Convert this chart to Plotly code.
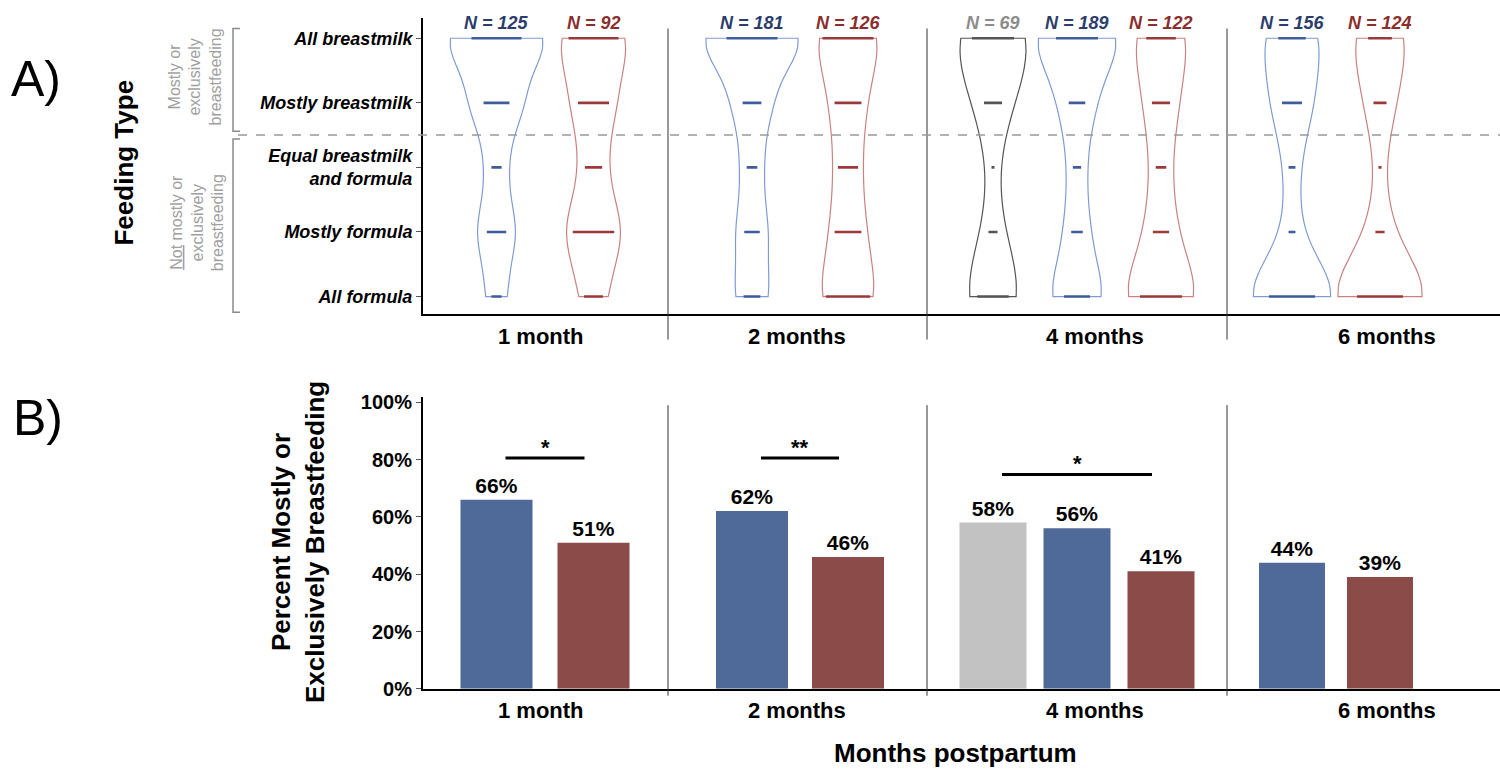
import numpy as np
import plotly.graph_objects as go

# ---------------- data ----------------
MONTHS = ["1 month", "2 months", "4 months", "6 months"]
LEVELS = [1, 2, 3, 4, 5]
LEVEL_LABELS = ["All formula", "Mostly formula", "Equal breastmilk<br>and formula",
                "Mostly breastmilk", "All breastmilk"]

# counts per feeding level (All formula, Mostly formula, Equal, Mostly BM, All BM)
COUNTS_BLUE = [[11, 21, 11, 28, 54],
               [27, 25, 17, 30, 82],
               [47, 21, 15, 30, 76],
               [67, 10, 10, 29, 40]]
COUNTS_RED = [[11, 24, 10, 18, 29],
              [33, 20, 15, 20, 38],
              [44, 17, 11, 19, 31],
              [60, 12, 4, 17, 31]]
COUNTS_GRAY = [None, None, [21, 6, 2, 12, 28], None]

PCT_BLUE = [66, 62, 56, 44]
PCT_RED = [51, 46, 41, 39]
PCT_GRAY = [None, None, 58, None]

Y_TICKS = [0, 20, 40, 60, 80, 100]
Y_TICK_TEXT = ["0%", "20%", "40%", "60%", "80%", "100%"]

SIG_MONTH = [0, 1, 2]
SIG_FROM = ["blue", "blue", "gray"]
SIG_TO = ["red", "red", "red"]
SIG_LABEL = ["*", "**", "*"]
SIG_LEVEL = [80.5, 80.5, 74.8]

# ---------------- styles / layout constants ----------------
W, H = 1500, 783
FONT = "Liberation Sans"
VIOLIN_LINE = {"blue": "#7f9bd2", "red": "#c98280", "gray": "#555555"}
DASH_COLOR = {"blue": "#3f5d9c", "red": "#9a3a3a", "gray": "#555555"}
N_COLOR = {"blue": "#2c3d6c", "red": "#8a2e2e", "gray": "#8c8c8c"}
BAR_COLOR = {"blue": "#4f6999", "red": "#8b4b48", "gray": "#c2c2c2"}

X_RANGE = [0, 1077]
GROUP_EDGES = [0, 245, 504, 804, 1077]
GROUP_CENTER = [122, 377, 654, 913]
GROUP_SPACING = [97, 96, 84, 88]
LABEL_X = [118, 374, 672, 964]
VIOLIN_W = [92, 92, 77, 84]
DASH_MAX = [50, 51, 42, 46]
BAR_W = [72, 72, 67, 66]


def px(x):
    return x / W


def py(y):
    return 1 - y / H


def series_in(g):
    s = []
    if COUNTS_GRAY[g] is not None:
        s.append("gray")
    s += ["blue", "red"]
    return s


def pos(g, name):
    s = series_in(g)
    i = s.index(name)
    return GROUP_CENTER[g] + (i - (len(s) - 1) / 2) * GROUP_SPACING[g]


def counts(g, name):
    return {"blue": COUNTS_BLUE, "red": COUNTS_RED, "gray": COUNTS_GRAY}[name][g]


def pct(g, name):
    return {"blue": PCT_BLUE, "red": PCT_RED, "gray": PCT_GRAY}[name][g]


def bw_nrd0(s):
    sd = np.std(s, ddof=1)
    q75, q25 = np.percentile(s, [75, 25])
    lo = min(sd, (q75 - q25) / 1.34) if q75 > q25 else sd
    return 0.9 * lo * len(s) ** -0.2


def kde_max(s, bw):
    grid = np.linspace(s.min(), s.max(), 401)
    d = np.exp(-0.5 * ((grid[:, None] - s[None, :]) / bw) ** 2).sum(1)
    return (d / (len(s) * bw * np.sqrt(2 * np.pi))).max()


fig = go.Figure()
annotations = []

# ---------------- panel A: violins (area-scaled within each month) ----------------
for g in range(len(MONTHS)):
    info = []
    for name in series_in(g):
        samples = np.repeat(LEVELS, counts(g, name)).astype(float)
        bw = bw_nrd0(samples)
        info.append((name, samples, bw, kde_max(samples, bw)))
    gmax = max(i[3] for i in info)
    for name, samples, bw, dmax in info:
        c = counts(g, name)
        x0 = pos(g, name)
        fig.add_trace(go.Violin(
            x=[x0] * len(samples), y=samples, xaxis="x", yaxis="y",
            width=VIOLIN_W[g] * dmax / gmax, scalemode="width",
            scalegroup=f"{name}{g}",
            spanmode="hard", bandwidth=bw, points=False,
            box_visible=False, meanline_visible=False,
            line=dict(color=VIOLIN_LINE[name], width=1.2),
            fillcolor="rgba(255,255,255,0)", hoverinfo="skip", showlegend=False))
        xs, ys = [], []
        mx = max(c)
        for lv, n in zip(LEVELS, c):
            hw = n / mx * DASH_MAX[g] / 2
            xs += [x0 - hw, x0 + hw, None]
            ys += [lv, lv, None]
        fig.add_trace(go.Scatter(x=xs, y=ys, xaxis="x", yaxis="y", mode="lines",
                                 line=dict(color=DASH_COLOR[name], width=2.6),
                                 hoverinfo="skip", showlegend=False))
        annotations.append(dict(x=x0, y=LEVELS[-1], xref="x", yref="y", yshift=15,
                                xanchor="center", yanchor="middle",
                                text=f"N = {sum(c)}", showarrow=False,
                                font=dict(family=FONT, size=18, color=N_COLOR[name],
                                          weight="bold", style="italic")))

# ---------------- panel B: bars ----------------
for name in ["gray", "blue", "red"]:
    xs, ys, ws = [], [], []
    for g in range(len(MONTHS)):
        if name in series_in(g):
            xs.append(pos(g, name))
            ys.append(pct(g, name))
            ws.append(BAR_W[g])
    fig.add_trace(go.Bar(x=xs, y=ys, width=ws, xaxis="x2", yaxis="y2",
                         marker=dict(color=BAR_COLOR[name], line=dict(width=0)),
                         text=[f"{v}%" for v in ys], textposition="outside",
                         constraintext="none", cliponaxis=False,
                         textfont=dict(family=FONT, size=21, color="black", weight="bold"),
                         hoverinfo="skip", showlegend=False))

shapes = []
for g, a, b, lab, lvl in zip(SIG_MONTH, SIG_FROM, SIG_TO, SIG_LABEL, SIG_LEVEL):
    xa, xb = pos(g, a) + 9, pos(g, b) - 9
    shapes.append(dict(type="line", xref="x2", yref="y2", x0=xa, x1=xb, y0=lvl, y1=lvl,
                       line=dict(color="black", width=3)))
    annotations.append(dict(x=(xa + xb) / 2, y=lvl, xref="x2", yref="y2",
                            xanchor="center", yanchor="bottom",
                            yshift=-4, text=lab, showarrow=False,
                            font=dict(family=FONT, size=22, color="black", weight="bold")))

for e in GROUP_EDGES[1:-1]:
    shapes.append(dict(type="line", xref="x", yref="paper", x0=e, x1=e,
                       y0=py(341), y1=py(23), line=dict(color="#333333", width=1)))
    shapes.append(dict(type="line", xref="x2", yref="paper", x0=e, x1=e,
                       y0=py(705), y1=py(408), line=dict(color="#333333", width=1)))

shapes.append(dict(type="line", xref="paper", yref="y", x0=px(238), x1=1, y0=3.5, y1=3.5,
                   line=dict(color="#999999", width=1.5, dash="dash")))
for ya, yb in [(23, 128), (136, 313)]:
    shapes.append(dict(type="path", xref="paper", yref="paper",
                       path=f"M {px(240)},{py(ya)} L {px(233)},{py(ya)} L {px(233)},{py(yb)} L {px(240)},{py(yb)}",
                       line=dict(color="#8a8a8a", width=1.5)))

for g, m in enumerate(MONTHS):
    for xr, yy in [("x", 338), ("x2", 720)]:
        annotations.append(dict(x=LABEL_X[g], y=py(yy), xref=xr, yref="paper", text=m,
                                showarrow=False, xanchor="center", yanchor="middle",
                                font=dict(family=FONT, size=22, color="black", weight="bold")))


def ptext(x, y, text, size, color="black", angle=0, **kw):
    return dict(x=px(x), y=py(y), xref="paper", yref="paper", text=text, textangle=angle,
                xanchor="center", yanchor="middle", showarrow=False,
                font=dict(family=FONT, size=size, color=color, **kw))


annotations += [
    ptext(36, 75, "A)", 50),
    ptext(38, 421, "B)", 50),
    ptext(124, 160, "Feeding Type", 26, angle=-90, weight="bold"),
    ptext(195, 73, "Mostly or<br>exclusively<br>breastfeeding", 16, "#a0a0a0", angle=-90),
    ptext(197, 222, "<u>Not</u> mostly or<br>exclusively<br>breastfeeding", 16, "#a0a0a0",
          angle=-90),
    ptext(298, 548, "Percent Mostly or<br>Exclusively Breastfeeding", 26, angle=-90,
          weight="bold"),
    ptext(955, 764, "Months postpartum", 26, weight="bold"),
]

fig.update_layout(
    width=W, height=H, margin=dict(l=0, r=0, t=0, b=0),
    paper_bgcolor="white", plot_bgcolor="white",
    violinmode="overlay", barmode="overlay",
    font=dict(family=FONT, color="black"),
    xaxis=dict(domain=[px(423), 1], range=X_RANGE, showgrid=False, zeroline=False,
               showticklabels=False, ticks="", showline=True, linecolor="black",
               linewidth=2, anchor="y"),
    yaxis=dict(domain=[py(315), py(12)], range=[0.727, 5.318], showgrid=False,
               zeroline=False, tickvals=LEVELS, ticktext=LEVEL_LABELS,
               ticks="outside", ticklen=5, tickcolor="#555", showline=True,
               linecolor="black", linewidth=2, anchor="x",
               tickfont=dict(family=FONT, size=18, color="black", weight="bold",
                             style="italic")),
    xaxis2=dict(domain=[px(423), 1], range=X_RANGE, showgrid=False, zeroline=False,
                showticklabels=False, ticks="", showline=True, linecolor="black",
                linewidth=2, anchor="y2"),
    yaxis2=dict(domain=[py(698), py(400)], range=[0, 101.7], showgrid=False,
                zeroline=False, tickvals=Y_TICKS, ticktext=Y_TICK_TEXT,
                ticks="outside", ticklen=5, tickcolor="#555", showline=True,
                linecolor="black", linewidth=2, anchor="x2",
                tickfont=dict(family=FONT, size=20, color="black", weight="bold")),
    shapes=shapes, annotations=annotations,
)

fig.write_html("out.html", config={"displayModeBar": False},
               post_script="document.body.style.margin='0px';")
